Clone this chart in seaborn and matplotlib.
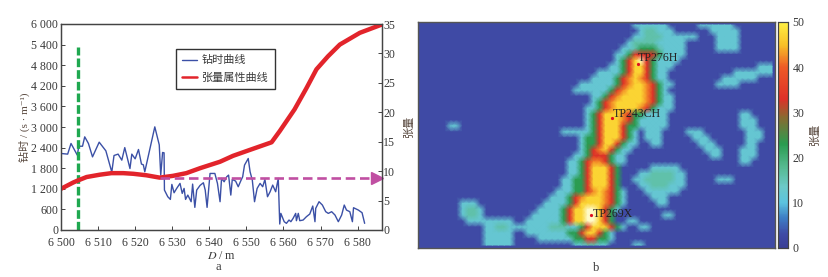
import re
import numpy as np
import pandas as pd
import matplotlib
matplotlib.use('Agg')
import matplotlib.pyplot as plt
from matplotlib.colors import LinearSegmentedColormap
from matplotlib.lines import Line2D
import seaborn as sns

# left panel: drilling time curve
drill_depth = [6500, 6501.8, 6502.7, 6504.4, 6504.8, 6505.8, 6506.4, 6507.4, 6508.5, 6510.3, 6512.1, 6513.7,
               6514.3, 6515.4, 6516.4, 6517.2, 6518.6, 6519.1, 6520, 6520.9, 6521.7, 6522.2, 6522.6, 6525.3,
               6526.5, 6526.9, 6527.4, 6527.8, 6527.9, 6528.8, 6529.5, 6529.9, 6530.5, 6531.2, 6532.1, 6532.7,
               6533.2, 6533.6, 6534.2, 6535.1, 6535.5, 6536.1, 6536.6, 6537.5, 6538.4, 6538.9, 6539.4, 6540.2,
               6541.5, 6542.2, 6542.9, 6543.3, 6544, 6544.7, 6545.2, 6545.8, 6546.2, 6547.1, 6547.8, 6548.5,
               6549, 6549.5, 6550.5, 6551, 6551.6, 6552.2, 6552.9, 6553.7, 6554.4, 6555, 6555.7, 6556.4,
               6557.1, 6557.9, 6558.6, 6559, 6559.3, 6560.2, 6560.8, 6561.5, 6562, 6562.6, 6563.3, 6563.5,
               6564, 6564.4, 6565.3, 6566.2, 6567.1, 6567.9, 6568.5, 6568.7, 6569.6, 6570.5, 6571.4, 6572.1,
               6573, 6573.9, 6574.8, 6575.7, 6576.4, 6577, 6577.9, 6578.6, 6578.9, 6580.2, 6581.2, 6581.9]
drill_time = [2229, 2210, 2520, 2180, 2440, 2440, 2713, 2520, 2130, 2558, 2306, 1686,
              2170, 2210, 2035, 2400, 1790, 2210, 2073, 2345, 1920, 1900, 1696, 3004,
              2480, 1600, 2258, 2248, 1163, 969, 891, 1328, 1085, 1211, 1357, 1066,
              1211, 891, 1017, 824, 1337, 659, 1163, 1298, 1376, 1163, 659, 1647,
              1647, 1357, 824, 1502, 1405, 1550, 1599, 1017, 1473, 1424, 1260, 1434,
              1550, 1890, 2083, 1696, 1453, 824, 1211, 1357, 1260, 1473, 969, 1114,
              1308, 1114, 1502, 174, 484, 242, 194, 290, 242, 339, 484, 271,
              484, 271, 290, 388, 465, 698, 242, 630, 824, 727, 533, 484,
              533, 436, 242, 436, 727, 581, 533, 242, 649, 581, 504, 194]

# left panel: tensor attribute curve
tensor_depth = [6500, 6503.3, 6504.5, 6506.9, 6510.5, 6513.6, 6516.8, 6519.5, 6523, 6526.6, 6530.2, 6533.8, 6537.5,
                6542.9, 6546.4, 6550.9, 6556.8, 6559, 6563, 6566.2, 6568.9, 6572, 6575.2, 6580.6, 6586.5]
tensor_val = [7.0, 8.07, 8.4, 9.0, 9.4, 9.66, 9.66, 9.55, 9.3, 8.9, 9.2, 9.66, 10.5,
              11.6, 12.6, 13.6, 14.9, 16.8, 20.5, 24.1, 27.3, 29.5, 31.5, 33.5, 34.9]

depth_ticks = [6500, 6510, 6520, 6530, 6540, 6550, 6560, 6570, 6580]
depth_labels = ['6 500', '6 510', '6 520', '6 530', '6 540', '6 550', '6 560', '6 570', '6 580']
time_ticks = [0, 600, 1200, 1800, 2400, 3000, 3600, 4200, 4800, 5400, 6000]
time_labels = ['0', '600', '1 200', '1 800', '2 400', '3 000', '3 600', '4 200', '4 800', '5 400', '6 000']
tensor_ticks = [0, 5, 10, 15, 20, 25, 30, 35]
cbar_ticks = [0, 10, 20, 30, 40, 50]

marker_depth = 6504.5
marker_top = 5330
flat_start = 6526.6
flat_value = 8.9

level_values = {'.': 3, 'a': 12, 'b': 16, 'g': 23, 'r': 33, 'o': 42, 'y': 47, 'w': 55}
map_runs = [
    '36. 6a 5. 6a',
    '37. 1a 2b 3a 6. 5a',
    '36. 2a 3b 6a 3. 4a',
    '35. 1a 4b 5a 5. 4a',
    '34. 2a 1b 3g 1b 4a 5. 4a',
    '33. 2a 1g 4r 1g 4a',
    '33. 1a 1g 1r 1y 1w 1r 1g 4a',
    '32. 2a 1g 1r 2y 1r 1g 3a 14. 3a',
    '30. 4a 1g 1r 2y 1r 1g 2a 11. 7a',
    '29. 4a 1g 1r 1o 1y 1o 1r 1g 2a 9. 6a',
    '27. 6a 1g 1r 1o 2y 1o 1r 1g 2a 7. 4a',
    '26. 6a 1g 1r 1o 3y 1o 1r 1g 1a',
    '29. 2a 1g 1r 1o 4y 1o 1r 1g 2a',
    '29. 1a 1g 1r 1o 5y 1o 1r 1g 2a',
    '28. 2a 1g 1r 1o 4y 1o 1r 1g 3a',
    '28. 1a 1g 1r 3y 1o 1r 2g 4a 12. 2a',
    '28. 1a 1g 1r 3y 1o 1r 1g 5a 12. 3a',
    '5. 2a 21. 1a 1g 1r 3y 1r 2g 5a 12. 3a',
    '24. 5a 1g 1r 3y 1r 1g 1a 1. 3a 4. 3a 7. 3a',
    '27. 1a 2g 1r 3y 1r 1g 1a 1. 3a 5. 3a 6. 3a',
    '27. 1a 2g 1r 2y 1r 1g 2a 2. 2a 6. 3a 5. 2a',
    '27. 1a 1g 1r 1o 1y 1r 1g 2a 12. 3a 3. 3a',
    '26. 2a 1g 3r 1g 2a 14. 2a 3. 3a',
    '25. 2a 1g 1r 2o 1r 1g 2a 19. 2a',
    '25. 2a 1g 1r 3y 1r 1g 5. 5a',
    '25. 2a 1g 1r 3y 1r 1g 3. 2a 4b 2a',
    '24. 2a 2g 1r 3y 1r 1g 2. 2a 5b 2a 5. 3a',
    '24. 2a 2g 1r 3y 1r 1g 3. 2a 3b 3a',
    '23. 3a 2g 1r 1o 1y 1o 1r 1g 1a 3. 6a',
    '22. 3a 1g 1r 1o 3y 1o 1r 1g 1a 4. 3a',
    '7. 3a 11. 4a 1g 1r 4y 1o 1r 1g 1a 5. 2a',
    '7. 1a 2b 1a 9. 4a 1g 1r 1y 1y 2w 1y 1r 1g 1a',
    '7. 1a 2b 1a 8. 5a 1g 1r 2y 2w 1y 1r 1g 8. 2a',
    '8. 8a 2. 6a 1g 1r 2y 2w 1y 1r 1g 2. 2a',
    '11. 2a 2b 7a 3b 2a 1g 1r 3y 1r 1g 1a 2. 2a',
    '11. 5a 2. 7a 2g 1r 2y 1r 1g 1a',
    '11. 5a 4. 6a 2g 2r 2g 1a',
    '11. 5a 10. 2a 2b 2a 4. 2a',
]
n_cols = 60


def decode_row(runs):
    row = []
    for count, code in re.findall(r'(\d+)(\S)', runs):
        row += [level_values[code]] * int(count)
    row += [level_values['.']] * (n_cols - len(row))
    return row[:n_cols]


map_values = np.array([decode_row(r) for r in map_runs], dtype=float)

sns.set_theme(style='ticks')
plt.rcParams['font.family'] = ['Liberation Serif', 'Noto Sans CJK SC', 'DejaVu Sans']
plt.rcParams['mathtext.fontset'] = 'stix'
plt.rcParams['axes.unicode_minus'] = False

txt_color = '#3a3a3a'
blue = '#3b50a6'
red = '#e2242b'
green = '#1fa850'
pink = '#c04fa2'
fs = 8.6

W, H = 829, 277
fig = plt.figure(figsize=(W / 100, H / 100), dpi=100)
ax = fig.add_axes([61 / W, 1 - 230 / H, 320.7 / W, 206 / H])
ax2 = ax.twinx()

df_drill = pd.DataFrame({'depth': drill_depth, 'time': drill_time})
df_tensor = pd.DataFrame({'depth': tensor_depth, 'tensor': tensor_val})

sns.lineplot(data=df_drill, x='depth', y='time', ax=ax, color=blue, lw=1.0, estimator=None, legend=False)
sns.lineplot(data=df_tensor, x='depth', y='tensor', ax=ax2, color=red, lw=3.2, estimator=None, legend=False)

ax.plot([marker_depth, marker_depth], [0, marker_top], color=green, lw=2.4, ls=(0, (2.6, 0.9)))
ax2.plot([flat_start, tensor_depth[-1] - 1], [flat_value, flat_value], color=pink, lw=1.9, ls=(0, (3.6, 1.8)))
ax2.plot([tensor_depth[-1] - 1.3], [flat_value], marker='>', ms=8.5, color=pink, clip_on=False)

ax.set_xlim(6500, 6586.5)
ax.set_ylim(0, 6000)
ax2.set_ylim(0, 35)
ax.set_xticks(depth_ticks)
ax.set_xticklabels(depth_labels)
ax.set_yticks(time_ticks)
ax.set_yticklabels(time_labels)
ax2.set_yticks(tensor_ticks)
ax.set_xlabel('$D$ / m', fontsize=fs, color=txt_color, labelpad=0.5)
ax.set_ylabel('钻时 / (s · m⁻¹)', fontsize=8, color='#5a4a40', labelpad=1)
ax2.set_ylabel('张量', fontsize=8, color='#5a4a40', labelpad=6)
ax.tick_params(axis='both', direction='in', length=3, width=0.7, labelsize=fs, labelcolor=txt_color, color='#444444', pad=2)
ax.tick_params(axis='x', pad=5)
ax2.tick_params(axis='y', direction='in', length=3, width=0.7, labelsize=fs, labelcolor=txt_color, color='#444444', pad=1)
for a in (ax, ax2):
    for s in a.spines.values():
        s.set_color('#444444')
        s.set_linewidth(0.9)

handles = [Line2D([], [], color=blue, lw=1.0), Line2D([], [], color=red, lw=1.8)]
ax2.legend(handles, ['钻时曲线', '张量属性曲线'], loc='upper left', bbox_to_anchor=(0.358, 0.88), fontsize=8,
           frameon=True, fancybox=False, framealpha=1, edgecolor='#333333', labelcolor=txt_color,
           borderaxespad=0, handlelength=1.3, handletextpad=0.4, labelspacing=0.65, borderpad=0.6)
fig.text(218 / W, 1 - 267.5 / H, 'a', fontsize=fs + 0.4, color=txt_color, ha='center', va='center')

# right panel
map_cmap = LinearSegmentedColormap.from_list('tensor', [
    (0.00, '#3a3f96'), (0.06, '#3f4aa5'), (0.13, '#3d7cc4'), (0.20, '#5cc3de'), (0.27, '#6cc9c8'),
    (0.36, '#55b98f'), (0.46, '#2a9c50'), (0.58, '#8a6a30'), (0.66, '#de3028'), (0.80, '#ee5a26'),
    (0.90, '#f8c028'), (1.00, '#fff043')])
map_cmap.set_over('#fffbc8')

hm = fig.add_axes([418 / W, 1 - 248 / H, 357 / W, 226 / H])
cax = fig.add_axes([778.3 / W, 1 - 248 / H, 10 / W, 226 / H])
hm.set_facecolor('#3f4aa5')
# gouraud keeps the contours soft like the source raster
sns.heatmap(map_values, ax=hm, cbar_ax=cax, cmap=map_cmap, vmin=0, vmax=50, xticklabels=False, yticklabels=False,
            shading='gouraud')
hm.set_xlim(-0.5, n_cols - 0.5)
hm.set_ylim(len(map_runs) - 0.5, -0.5)
hm.set_xlabel('')
hm.set_ylabel('')
for s in hm.spines.values():
    s.set_visible(True)
    s.set_color('#555555')
    s.set_linewidth(1.0)

cax.set_yticks(cbar_ticks)
cax.tick_params(axis='y', length=0, labelsize=fs, labelcolor=txt_color, pad=3)
cax.set_ylabel('张量', fontsize=8, color='#5a4a40', labelpad=4)
for s in cax.spines.values():
    s.set_visible(True)
    s.set_color('#444444')
    s.set_linewidth(0.8)

wells = ['TP276H', 'TP243CH', 'TP269X']
well_col = [36.5, 32.1, 28.5]
well_row = [6.5, 15.6, 32.0]
label_col = [36.5, 32.3, 28.9]
label_row = [5.5, 14.9, 31.8]
for name, c, r, lc, lr in zip(wells, well_col, well_row, label_col, label_row):
    hm.plot([c], [r], marker='o', ms=1.3, color='#e01020')
    hm.text(lc, lr, name, fontsize=fs, color='#222222', ha='left', va='center')

fig.text(596 / W, 1 - 268 / H, 'b', fontsize=fs + 0.4, color=txt_color, ha='center', va='center')

fig.savefig('out.png', dpi=100, facecolor='white')
